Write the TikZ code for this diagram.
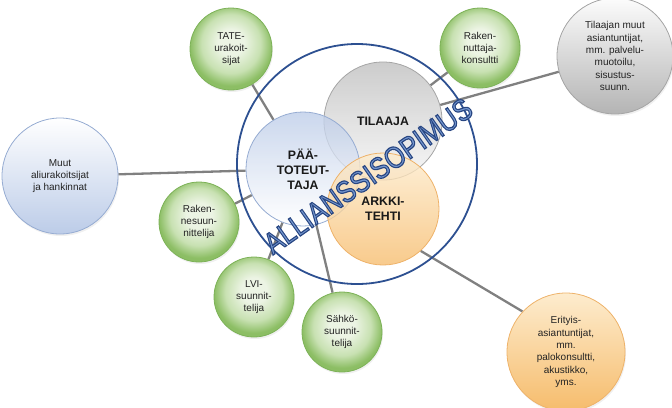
\documentclass[tikz,border=0pt]{standalone}
\usepackage{fontspec}
\setmainfont{Liberation Sans}
\usetikzlibrary{calc,shadows}

\definecolor{gIn}{RGB}{236,244,228}
\definecolor{gMid}{RGB}{200,225,178}
\definecolor{gOut}{RGB}{140,190,100}
\definecolor{gDraw}{RGB}{125,178,88}
\definecolor{grTop}{RGB}{252,252,252}
\definecolor{grBot}{RGB}{180,180,180}
\definecolor{grDraw}{RGB}{165,165,165}
\definecolor{tiTop}{RGB}{190,190,190}
\definecolor{tiBot}{RGB}{245,245,245}
\definecolor{bTop}{RGB}{188,204,232}
\definecolor{bDraw}{RGB}{150,172,210}
\definecolor{oTop}{RGB}{253,236,206}
\definecolor{oBot}{RGB}{246,188,108}
\definecolor{oDraw}{RGB}{238,178,105}
\definecolor{bigBlue}{RGB}{45,80,145}
\definecolor{allFill}{RGB}{118,152,208}
\definecolor{allDark}{RGB}{40,70,130}
\definecolor{connGray}{RGB}{128,128,128}
\definecolor{txt}{RGB}{35,35,35}

\pgfdeclareradialshading{greenball}{\pgfpoint{0bp}{5bp}}{color(0bp)=(gIn); color(8bp)=(gIn); color(18bp)=(gMid); color(25bp)=(gOut); color(50bp)=(gOut)}

\pgfdeclarelayer{bg}
\pgfsetlayers{bg,main}

\newcommand{\outlinetext}[1]{{\color{allFill}\special{pdf:literal direct 2 Tr 1.0 w 0.157 0.275 0.510 RG}#1\special{pdf:literal direct 0 Tr}}}

\tikzset{
  softshadow/.style={drop shadow={opacity=0.12, shadow xshift=1pt, shadow yshift=-2pt}},
  circ/.style={circle, inner sep=0pt, align=center, text=txt, softshadow,
    font=\fontsize{10}{12.3}\selectfont},
  sat/.style={circ, draw=gDraw, line width=0.8pt, shading=greenball},
  grayc/.style={circ, draw=grDraw, line width=0.8pt, top color=grTop, bottom color=grBot},
  bluec/.style={circ, draw=bDraw, line width=0.8pt, top color=white, bottom color=bTop},
  orc/.style={circ, draw=oDraw, line width=0.8pt, top color=oTop, bottom color=oBot},
  mainc/.style={circle, inner sep=0pt, align=center, text=black!90, fill opacity=0.78, text opacity=1,
    font=\bfseries\fontsize{12.3}{15}\selectfont, line width=0.8pt},
  conn/.style={draw=connGray, line width=2.3pt},
  bigtxt/.style={rotate=35, font=\fontsize{25.5}{26}\selectfont, inner sep=0pt}
}

\begin{document}
\begin{tikzpicture}[x=1pt,y=-1pt]
\useasboundingbox (0,0) rectangle (672,407);

% big agreement circle
\node[circle, draw=bigBlue, line width=1.8pt, minimum size=240pt, inner sep=0pt] (big) at (357,164) {};

% core parties
\node[mainc, draw=grDraw, top color=tiTop, bottom color=tiBot, minimum size=118pt] (tila) at (383,121) {TILAAJA};
\node[mainc, draw=bDraw, top color=bTop, bottom color=white, minimum size=114pt] (paa) at (303,169) {PÄÄ-\\TOTEUT-\\TAJA};
\node[mainc, draw=oDraw, top color=oTop, bottom color=oBot, minimum size=112pt] (arkki) at (383,209) {ARKKI-\\TEHTI};

% satellites
\node[sat, minimum size=82pt] (tate) at (231,49) {TATE-\\urakoit-\\sijat};
\node[sat, minimum size=80pt] (rakk) at (480,48) {Raken-\\nuttaja-\\konsultti};
\node[grayc, minimum size=116pt] (tmuut) at (615,56) {Tilaajan muut\\asiantuntijat,\\mm. palvelu-\\muotoilu,\\sisustus-\\suunn.};
\node[bluec, minimum size=116pt] (muut) at (60,176) {Muut\\aliurakoitsijat\\ja hankinnat};
\node[sat, minimum size=80pt] (rsuun) at (199,222) {Raken-\\nesuun-\\nittelija};
\node[sat, minimum size=80pt] (lvi) at (254,297) {LVI-\\suunnit-\\telija};
\node[sat, minimum size=80pt] (sahko) at (342,332) {Sähkö-\\suunnit-\\telija};
\node[orc, minimum size=118pt] (erit) at (566,352) {Erityis-\\asiantuntijat,\\mm.\\palokonsultti,\\akustikko,\\yms.};

% connectors
\begin{pgfonlayer}{bg}
\draw[conn] (tate) -- (paa);
\draw[conn] (muut) -- (paa);
\draw[conn] (rsuun) -- (paa);
\draw[conn] (lvi) -- (paa);
\draw[conn] (sahko) -- (paa);
\draw[conn] (rakk) -- (tila);
\draw[conn] (tmuut) -- (tila);
\draw[conn] (arkki.-48) -- (erit.137);
\end{pgfonlayer}

% agreement title
\node[bigtxt] (allt) at (368,176) {\scalebox{1}[1.18]{\outlinetext{ALLIANSSISOPIMUS}}};
\end{tikzpicture}
\end{document}
